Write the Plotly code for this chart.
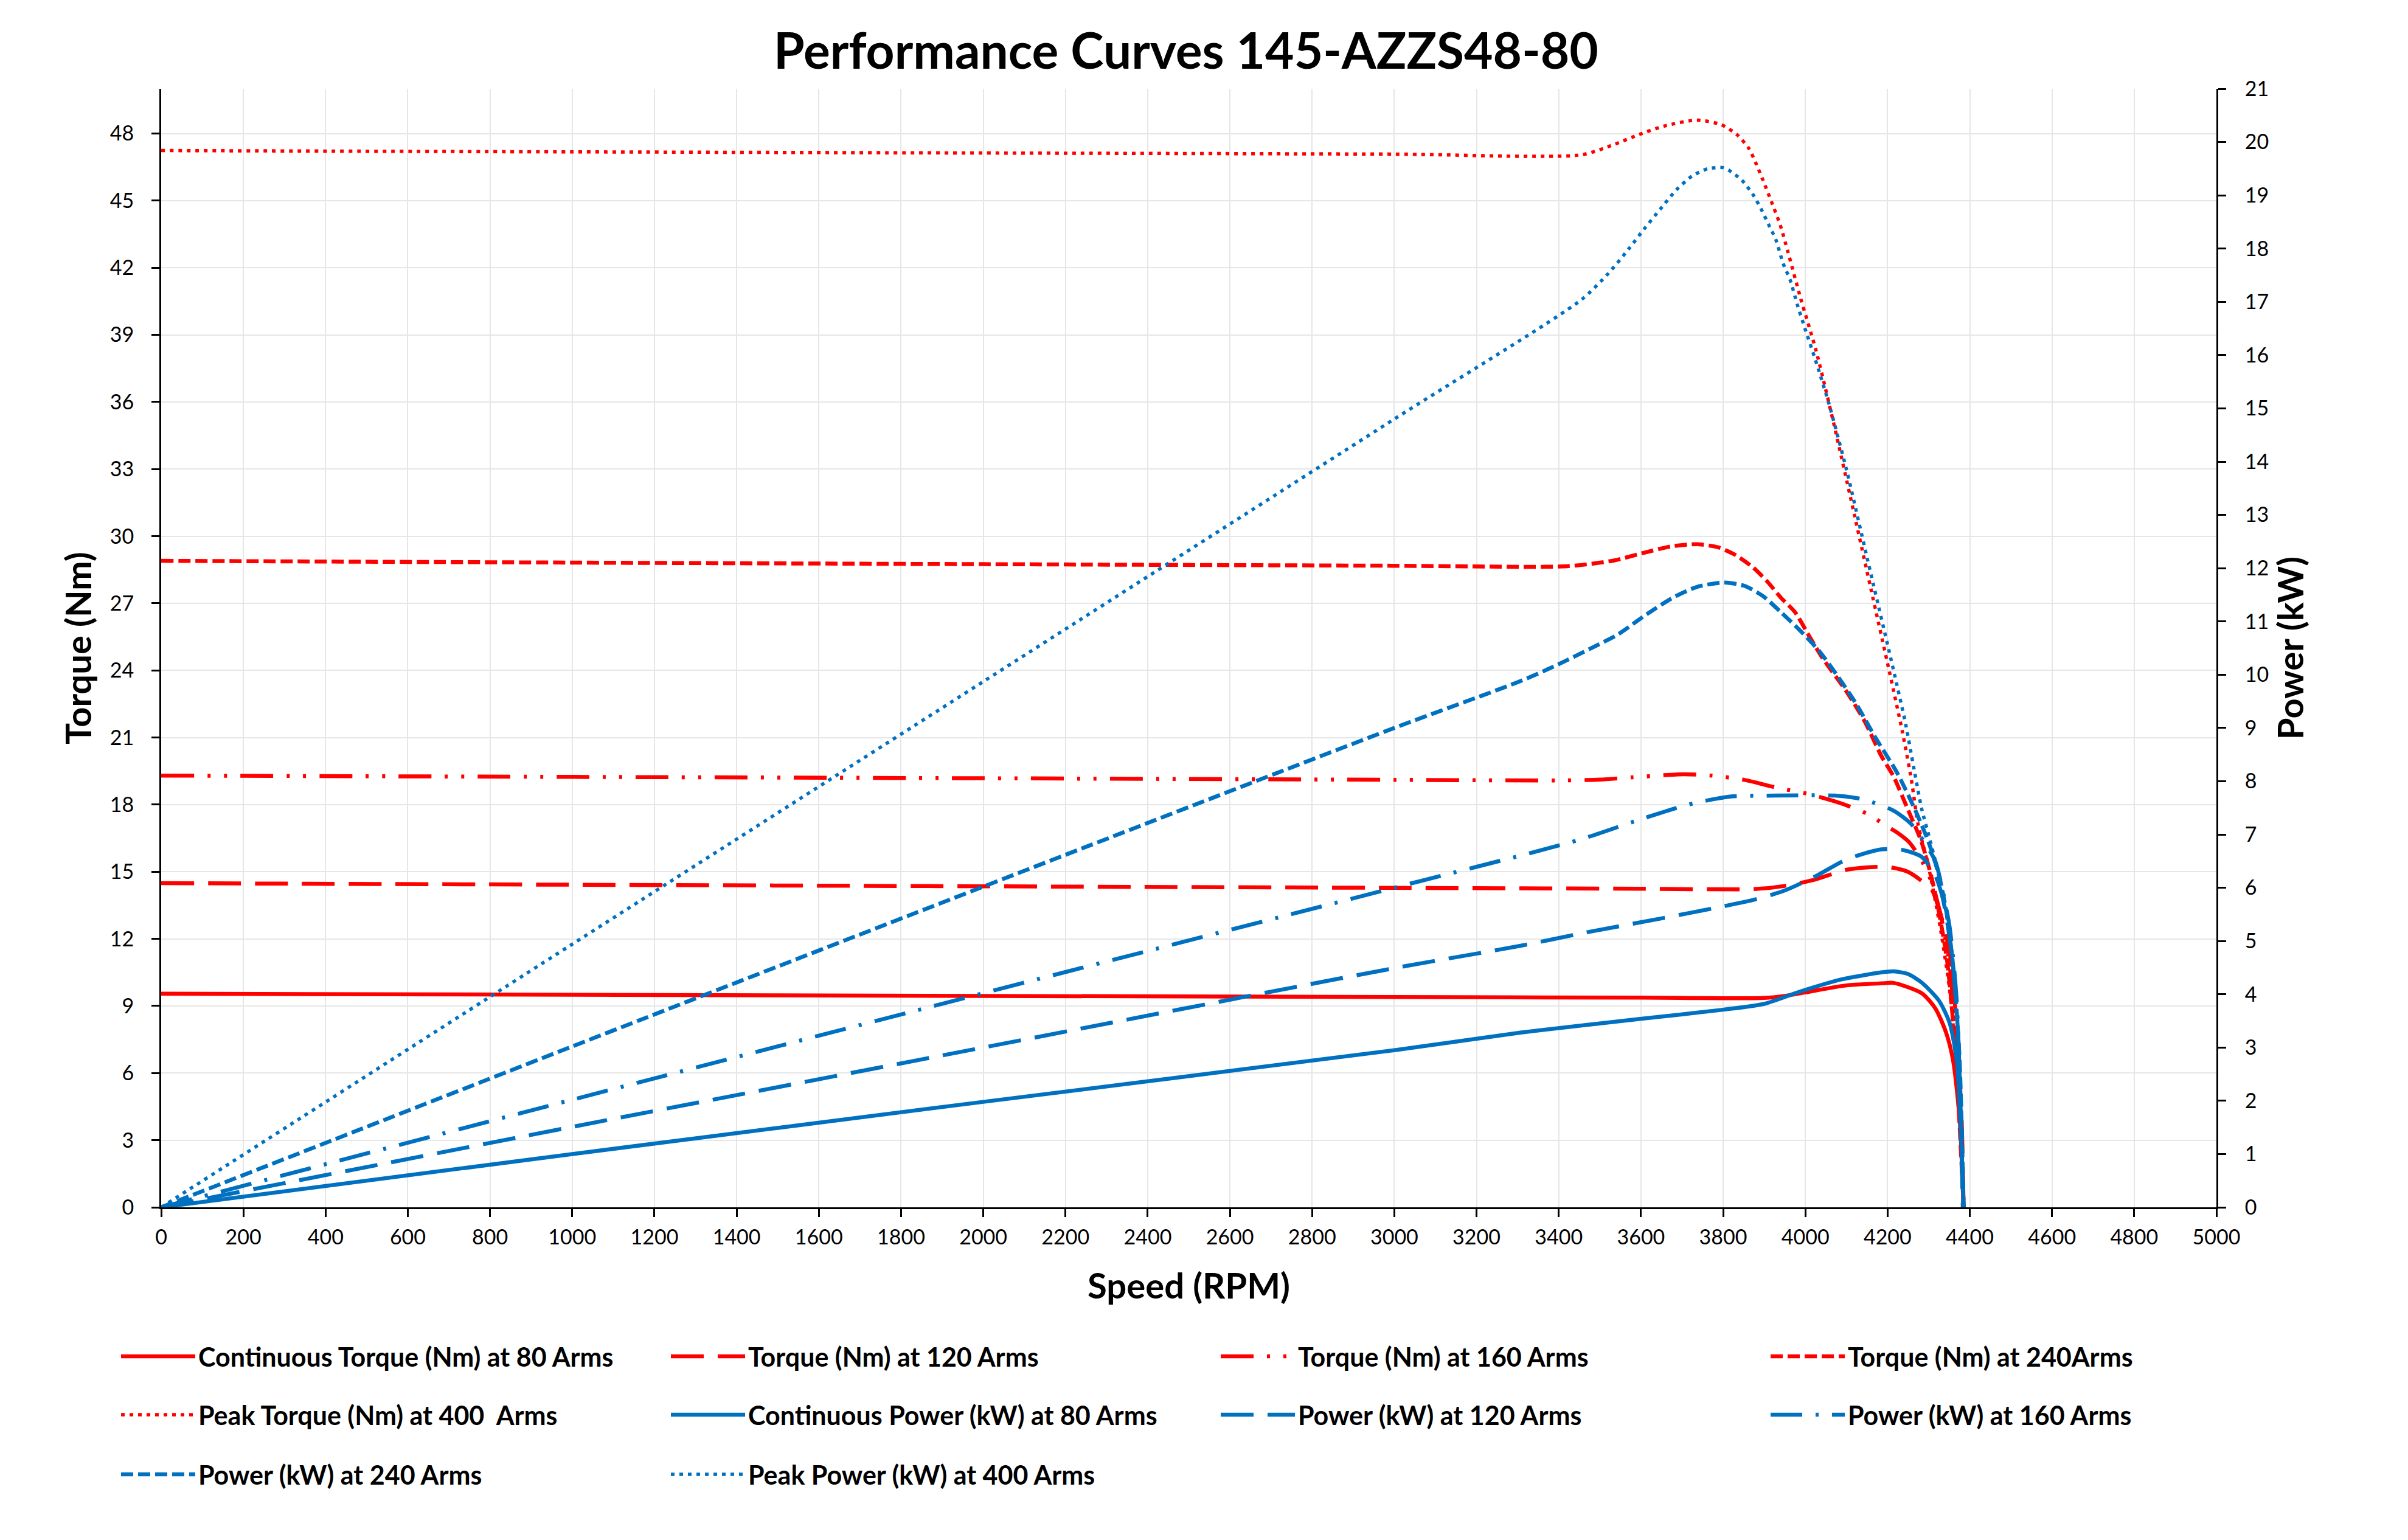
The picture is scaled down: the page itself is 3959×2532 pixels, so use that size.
import plotly.graph_objects as go

# ---------------- data ----------------
rpm_t80 = [0, 1000, 2000, 3000, 3600, 3900, 3950, 3998, 4100, 4185, 4215, 4283, 4316, 4342, 4359, 4372, 4380, 4385]
tq_t80 = [9.55, 9.5, 9.45, 9.4, 9.37, 9.36, 9.45, 9.6, 9.92, 10.01, 10.03, 9.57, 8.9, 7.83, 6.6, 4.62, 2.6, 0]

rpm_t120 = [0, 1000, 2000, 3000, 3600, 3880, 3947, 4021, 4100, 4174, 4206, 4249, 4283, 4308, 4325, 4342, 4355, 4370, 4380, 4385]
tq_t120 = [14.49, 14.42, 14.35, 14.28, 14.24, 14.23, 14.36, 14.64, 15.09, 15.22, 15.2, 15.0, 14.59, 14.18, 13.35, 12.2, 10.9, 7.5, 4.0, 0]

rpm_t160 = [0, 1000, 2000, 3000, 3400, 3500, 3579, 3704, 3772, 3851, 3930, 4004, 4083, 4157, 4189, 4225, 4253, 4283, 4308, 4330, 4350, 4368, 4385]
tq_t160 = [19.3, 19.24, 19.18, 19.11, 19.08, 19.12, 19.22, 19.36, 19.3, 19.11, 18.76, 18.49, 18.08, 17.54, 17.14, 16.73, 16.31, 15.5, 14.5, 13.0, 11.0, 7.0, 0]

rpm_t240 = [0, 1000, 2000, 3000, 3420, 3533, 3601, 3675, 3737, 3788, 3828, 3873, 3908, 3941, 3975, 4010, 4043, 4100, 4145, 4185, 4214, 4249, 4283, 4308, 4325, 4345, 4365, 4385]
tq_t240 = [28.9, 28.82, 28.75, 28.68, 28.66, 28.91, 29.23, 29.55, 29.64, 29.5, 29.18, 28.6, 27.96, 27.24, 26.6, 25.51, 24.52, 23.06, 21.7, 20.17, 19.28, 17.8, 16.31, 14.67, 13.19, 11.0, 7.0, 0]

rpm_t400 = [0, 1000, 2000, 3000, 3455, 3533, 3596, 3660, 3737, 3795, 3833, 3862, 3879, 3895, 3918, 3939, 3957, 3989, 4026, 4069, 4120, 4160, 4204, 4236, 4258, 4274, 4300, 4330, 4351, 4370, 4385]
tq_t400 = [47.24, 47.18, 47.13, 47.08, 47.05, 47.5, 47.96, 48.35, 48.6, 48.4, 47.96, 47.35, 46.7, 46.0, 44.93, 43.9, 42.75, 40.6, 38.3, 35.04, 30.9, 27.6, 23.98, 21.26, 19.1, 17.14, 15.2, 12.3, 9.7, 5.8, 0]

rpm_p80 = [0, 1000, 2000, 3000, 3307, 3601, 3800, 3900, 3987, 4089, 4185, 4215, 4250, 4283, 4325, 4351, 4368, 4378, 4385]
pw_p80 = [0, 1.0, 1.98, 2.95, 3.28, 3.54, 3.71, 3.82, 4.05, 4.28, 4.41, 4.43, 4.38, 4.22, 3.88, 3.46, 2.77, 1.45, 0]

rpm_p120 = [0, 1000, 2000, 3000, 3307, 3466, 3647, 3800, 3873, 3947, 4021, 4100, 4185, 4236, 4283, 4316, 4334, 4347, 4359, 4372, 4383]
pw_p120 = [0, 1.51, 3.0, 4.49, 4.91, 5.16, 5.42, 5.65, 5.77, 5.94, 6.2, 6.53, 6.72, 6.71, 6.58, 6.23, 5.81, 5.26, 4.57, 3.19, 0]

rpm_p160 = [0, 1000, 2000, 3000, 3450, 3601, 3715, 3816, 3930, 4072, 4140, 4214, 4257, 4290, 4316, 4334, 4351, 4368, 4384]
pw_p160 = [0, 2.02, 4.02, 6.0, 6.9, 7.29, 7.56, 7.71, 7.73, 7.73, 7.66, 7.45, 7.2, 6.85, 6.5, 5.95, 5.26, 3.9, 0]

rpm_p240 = [0, 1000, 2000, 3000, 3307, 3398, 3477, 3545, 3613, 3681, 3737, 3800, 3851, 3896, 3941, 3987, 4033, 4077, 4123, 4168, 4223, 4266, 4300, 4325, 4342, 4360, 4375, 4385]
pw_p240 = [0, 3.02, 6.02, 9.0, 9.88, 10.19, 10.49, 10.76, 11.13, 11.46, 11.65, 11.73, 11.67, 11.48, 11.17, 10.83, 10.45, 9.99, 9.46, 8.85, 8.16, 7.48, 6.85, 6.23, 5.6, 4.5, 2.8, 0]

rpm_p400 = [0, 1000, 2000, 3000, 3455, 3519, 3571, 3609, 3647, 3686, 3724, 3763, 3800, 3814, 3846, 3872, 3892, 3910, 3928, 3946, 3963, 3980, 3999, 4019, 4038, 4058, 4100, 4150, 4214, 4244, 4266, 4283, 4300, 4316, 4329, 4350, 4370, 4385]
pw_p400 = [0, 4.94, 9.87, 14.8, 17.04, 17.52, 18.0, 18.38, 18.74, 19.1, 19.36, 19.5, 19.52, 19.47, 19.28, 19.02, 18.75, 18.46, 18.17, 17.72, 17.41, 16.96, 16.5, 16.04, 15.58, 15.07, 13.85, 12.2, 10.1, 9.07, 8.16, 7.48, 6.99, 6.51, 6.09, 5.2, 3.3, 0]

names = [
    "Continuous Torque (Nm) at 80 Arms", "Torque (Nm) at 120 Arms", "Torque (Nm) at 160 Arms", "Torque (Nm) at 240Arms",
    "Peak Torque (Nm) at 400  Arms", "Continuous Power (kW) at 80 Arms", "Power (kW) at 120 Arms", "Power (kW) at 160 Arms",
    "Power (kW) at 240 Arms", "Peak Power (kW) at 400 Arms",
]

# ---------------- styling ----------------
RED = "#FF0000"
BLUE = "#0070C0"
FONT = "Lato"
PAGE = 8                      # default body margin of the html page
W, H = 3959 - 2 * PAGE, 2532 - 2 * PAGE
PL, PR, PT, PB = 265, 3644, 146, 1985   # plot area in window pixels
ML, MT = PL - PAGE, PT - PAGE
MR, MB = W - (PR - PAGE), H - (PB - PAGE)
PW, PH = PR - PL, PB - PT

solid = "solid"
lgdash = "54px,23px"
lgdashdotdot = "54px,22px,5px,22px,5px,22px"
lgdashdot = "52px,22px,5px,22px"
sysdash = "20px,8px"
sysdot = "6px,8px"

series = [
    (rpm_t80, tq_t80, RED, solid, 6.5, "y", "legend"),
    (rpm_t120, tq_t120, RED, lgdash, 6.5, "y", "legend"),
    (rpm_t160, tq_t160, RED, lgdashdotdot, 6.5, "y", "legend"),
    (rpm_t240, tq_t240, RED, sysdash, 6.5, "y", "legend"),
    (rpm_t400, tq_t400, RED, sysdot, 5.5, "y", "legend2"),
    (rpm_p80, pw_p80, BLUE, solid, 6.5, "y2", "legend2"),
    (rpm_p120, pw_p120, BLUE, lgdash, 6.5, "y2", "legend2"),
    (rpm_p160, pw_p160, BLUE, lgdashdot, 6.5, "y2", "legend2"),
    (rpm_p240, pw_p240, BLUE, sysdash, 6.5, "y2", "legend3"),
    (rpm_p400, pw_p400, BLUE, sysdot, 5.5, "y2", "legend3"),
]

fig = go.Figure()
for (xs, ys, col, dash, wd, yax, leg), nm in zip(series, names):
    fig.add_trace(go.Scatter(
        x=xs, y=ys, name=nm, mode="lines", yaxis=yax, legend=leg,
        line=dict(color=col, dash=dash, width=wd, shape="spline", smoothing=0.7),
        hoverinfo="skip",
    ))

axis_common = dict(
    showline=True, linecolor="black", linewidth=3,
    ticks="outside", ticklen=13, tickwidth=3, tickcolor="black",
    tickfont=dict(family=FONT, size=34, color="black"),
    zeroline=False,
)

ITEMW = 122
legend_common = dict(
    orientation="h", xref="paper", yref="paper",
    xanchor="left", yanchor="middle",
    font=dict(family=FONT, size=43, color="black", weight="bold"),
    bgcolor="rgba(0,0,0,0)", itemwidth=ITEMW, entrywidth=904 - (ITEMW + 10) - 5,
    traceorder="normal", itemclick=False, itemdoubleclick=False,
)
leg_x = (194 - PL) / PW


def leg_y(ypix):
    return (PB - ypix) / PH


fig.update_layout(
    width=W, height=H,
    margin=dict(l=ML, r=MR, t=MT, b=MB),
    paper_bgcolor="white", plot_bgcolor="white",
    title=dict(
        text="Performance Curves 145-AZZS48-80",
        font=dict(family=FONT, size=82, color="black", weight="bold"),
        x=(1950 - PAGE) / W, xref="container", xanchor="center",
        y=1 - (84 - PAGE) / H, yref="container", yanchor="middle",
    ),
    xaxis=dict(
        range=[0, 5000], tick0=0, dtick=200,
        showgrid=True, gridcolor="#E6E6E6", gridwidth=2,
        ticklabelstandoff=4,
        title=dict(text="Speed (RPM)", standoff=43,
                   font=dict(family=FONT, size=58, color="black", weight="bold")),
        **axis_common,
    ),
    yaxis=dict(
        range=[0, 50], tick0=0, dtick=3,
        showgrid=True, gridcolor="#E6E6E6", gridwidth=2,
        ticklabelstandoff=22,
        title=dict(text="Torque (Nm)", standoff=12,
                   font=dict(family=FONT, size=58, color="black", weight="bold")),
        **axis_common,
    ),
    yaxis2=dict(
        range=[0, 21], tick0=0, dtick=1, overlaying="y", side="right",
        showgrid=False, ticklabelstandoff=24,
        title=dict(text="Power (kW)", standoff=18,
                   font=dict(family=FONT, size=58, color="black", weight="bold")),
        **axis_common,
    ),
    # inner halves of the cross-style tick marks
    xaxis2=dict(range=[0, 5000], tick0=0, dtick=200, overlaying="x", anchor="y", side="bottom",
                ticks="inside", ticklen=13, tickwidth=3, tickcolor="black",
                showticklabels=False, showgrid=False, showline=False, zeroline=False),
    yaxis3=dict(range=[0, 50], tick0=0, dtick=3, overlaying="y", anchor="x", side="left",
                ticks="inside", ticklen=13, tickwidth=3, tickcolor="black",
                showticklabels=False, showgrid=False, showline=False, zeroline=False),
    yaxis4=dict(range=[0, 21], tick0=0, dtick=1, overlaying="y", anchor="x", side="right",
                ticks="inside", ticklen=13, tickwidth=3, tickcolor="black",
                showticklabels=False, showgrid=False, showline=False, zeroline=False),
    legend=dict(x=leg_x, y=leg_y(2230), **legend_common),
    legend2=dict(x=leg_x, y=leg_y(2326), **legend_common),
    legend3=dict(x=leg_x, y=leg_y(2424), **legend_common),
    showlegend=True,
)

fig.write_html("out.html")
